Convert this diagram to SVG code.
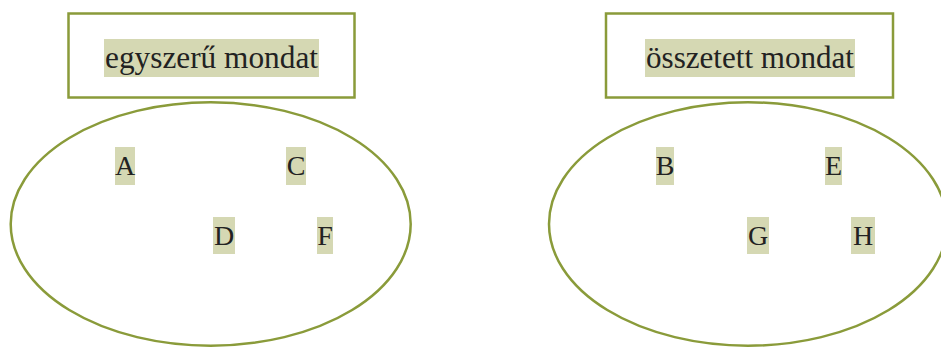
<svg xmlns="http://www.w3.org/2000/svg" width="941" height="347" viewBox="0 0 941 347">
<style>
.box{fill:#fff;stroke:#8a9b3a;stroke-width:2.5}
.ell{fill:none;stroke:#8a9b3a;stroke-width:2.5}
.hl{fill:#d5d8b3}
.t{font-family:"Liberation Serif","DejaVu Serif",serif;font-size:31px;fill:#222}
.l{font-family:"Liberation Serif","DejaVu Serif",serif;font-size:28px;fill:#222;text-anchor:middle}
</style>
<rect width="941" height="347" fill="#fff"/>
<g id="box-simple">
<rect class="box" x="68.5" y="13.5" width="286" height="84"/>
<rect class="hl" x="104" y="39" width="215" height="38"/>
<text class="t" x="105" y="68" textLength="213" lengthAdjust="spacingAndGlyphs">egyszerű mondat</text>
</g>
<g id="box-compound">
<rect class="box" x="606" y="13.5" width="287" height="84"/>
<rect class="hl" x="645" y="39" width="210" height="38"/>
<text class="t" x="646" y="68" textLength="208" lengthAdjust="spacingAndGlyphs">összetett mondat</text>
</g>
<g id="set-simple">
<ellipse class="ell" cx="210.7" cy="224" rx="200" ry="121.7"/>
<rect class="hl" x="115" y="147" width="20" height="38"/>
<text class="l" x="125" y="175">A</text>
<rect class="hl" x="286" y="147" width="20" height="38"/>
<text class="l" x="296" y="175">C</text>
<rect class="hl" x="213" y="217" width="22" height="37"/>
<text class="l" x="224" y="245">D</text>
<rect class="hl" x="317" y="217" width="16" height="37"/>
<text class="l" x="325" y="245">F</text>
</g>
<g id="set-compound">
<ellipse class="ell" cx="748" cy="224" rx="199" ry="121.7"/>
<rect class="hl" x="656" y="147" width="18" height="38"/>
<text class="l" x="665" y="175">B</text>
<rect class="hl" x="825" y="147" width="17" height="38"/>
<text class="l" x="833.5" y="175">E</text>
<rect class="hl" x="747" y="217" width="22" height="37"/>
<text class="l" x="758" y="245">G</text>
<rect class="hl" x="851" y="217" width="24" height="37"/>
<text class="l" x="863" y="245">H</text>
</g>
<g id="connectors"/>
</svg>
